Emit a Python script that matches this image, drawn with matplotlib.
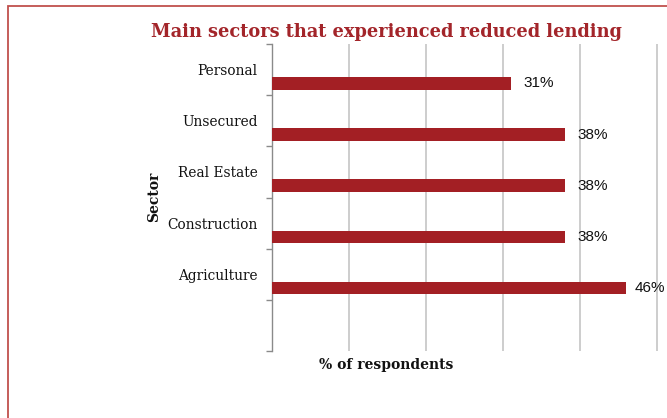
import numpy as np
import matplotlib
matplotlib.use("Agg")
import matplotlib.pyplot as plt
from matplotlib.patches import Rectangle

# Data
sectors = ["Personal", "Unsecured", "Real Estate", "Construction", "Agriculture"]
share = [31, 38, 38, 38, 46]          # % of respondents
grid_ticks = [0, 10, 20, 30, 40, 50, 60]

# Style
BAR = "#A31F24"
TITLE = "#A3252A"
FRAME = "#C0504D"
GRID = "#C9C9C9"
SPINE = "#8A8A8A"
SERIF = "DejaVu Serif"

W, H = 667, 418
fig = plt.figure(figsize=(W / 100, H / 100), dpi=100)


def fx(x):
    return x / W


def fy(y):
    return 1 - y / H


# outer chart frame (runs off the right and bottom edges)
fig.patches.append(Rectangle((fx(7.5), fy(420)), fx(800), fy(5.5) - fy(420),
                             transform=fig.transFigure, fill=False,
                             edgecolor=FRAME, linewidth=1.3))

ax = fig.add_axes([fx(272), fy(351), fx(462), (351 - 44) / H])
n_slots = len(sectors) + 1
ax.set_ylim(n_slots - 0.5, -0.5)
ax.set_xlim(grid_ticks[0], grid_ticks[-1])

ypos = np.arange(len(sectors))
bar_off = 0.27
ax.barh(ypos + bar_off, share, height=0.25, color=BAR, zorder=3)

# category boundaries as major ticks, names as minor ticks
ax.set_yticks(np.arange(-0.5, n_slots, 1.0))
ax.set_yticklabels([])
ax.tick_params(axis="y", which="major", direction="out", length=4,
               width=1, color=SPINE)
ax.set_yticks(ypos, minor=True)
ax.set_yticklabels(sectors, minor=True, fontfamily=SERIF, fontsize=9.9,
                   color="#111111")
ax.tick_params(axis="y", which="minor", length=0, pad=10.5)

ax.set_xticks(grid_ticks)
ax.tick_params(axis="x", length=0, labelbottom=False)
ax.grid(axis="x", color=GRID, linewidth=1.3, zorder=0)
ax.set_axisbelow(True)
for side in ("top", "right", "bottom"):
    ax.spines[side].set_visible(False)
ax.spines["left"].set_color(SPINE)
ax.spines["left"].set_linewidth(1)

# value labels, kept inside the chart's right edge
labels = []
for y, v in zip(ypos, share):
    t = ax.annotate(f"{v}%", (v, y + bar_off), xytext=(9.5, 0),
                    textcoords="offset points", ha="left", va="center",
                    fontfamily="Liberation Sans", fontsize=11,
                    color="#111111", annotation_clip=False)
    labels.append(t)
fig.canvas.draw()
renderer = fig.canvas.get_renderer()
right_limit = 665.5
for t in labels:
    bb = t.get_window_extent(renderer)
    if bb.x1 > right_limit:
        dx, dy = t.xyann
        t.xyann = (dx - (bb.x1 - right_limit) * 72 / fig.dpi, dy)

fig.text(fx(386), fy(37), "Main sectors that experienced reduced lending",
         ha="center", va="baseline", fontfamily=SERIF, fontweight="bold",
         fontsize=12.8, color=TITLE)
fig.text(fx(386.5), fy(369), "% of respondents", ha="center", va="baseline",
         fontfamily=SERIF, fontweight="bold", fontsize=10, color="#111111")
fig.text(fx(154), fy(197), "Sector", ha="center", va="center", rotation=90,
         fontfamily=SERIF, fontweight="bold", fontsize=10, color="#111111")

fig.savefig("out.png", dpi=100)
